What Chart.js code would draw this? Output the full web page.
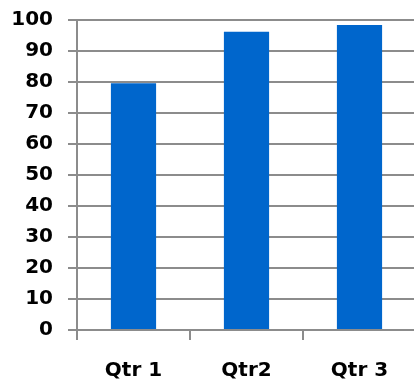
<!DOCTYPE html>
<html><head><meta charset="utf-8">
<script src="https://cdn.jsdelivr.net/npm/chart.js@4/dist/chart.umd.min.js"></script>
<style>html,body{margin:0;padding:0;overflow:hidden;background:#fff}#wrap{width:418px;height:383px;position:relative}</style>
</head><body><div id="wrap"><canvas id="c"></canvas></div>
<script>
const categories = ["Qtr 1", "Qtr2", "Qtr 3"];
const values = [79.6, 96.2, 98.4];
const yTicks = [0, 10, 20, 30, 40, 50, 60, 70, 80, 90, 100];

new Chart(document.getElementById('c'), {
  type: 'bar',
  data: { labels: categories, datasets: [{ data: values, backgroundColor: '#0066cc', borderWidth: 0, categoryPercentage: 1, barPercentage: 0.4 }] },
  options: {
    responsive: true, maintainAspectRatio: false, animation: false,
    layout: { padding: { top: 0, right: 2, left: 0, bottom: 0 } },
    plugins: { legend: { display: false }, tooltip: { enabled: false } },
    scales: {
      y: {
        min: 0, max: 100,
        afterBuildTicks: s => { s.ticks = yTicks.map(v => ({ value: v })); },
        afterFit: s => { s.width = 77; s.paddingTop = 20; s.paddingBottom = 0; },
        border: { display: true, color: '#8c8c8c', width: 2 },
        grid: { color: '#8c8c8c', lineWidth: 2, tickLength: 9, drawTicks: true },
        ticks: { color: '#000', padding: 15, font: { family: 'DejaVu Sans', weight: 'bold', size: 20 } }
      },
      x: {
        afterFit: s => { s.height = 53; },
        border: { display: true, color: '#8c8c8c', width: 2 },
        grid: { display: true, drawOnChartArea: false, color: '#8c8c8c', lineWidth: 2, tickLength: 10, offset: true },
        ticks: { color: '#000', padding: 19, font: { family: 'DejaVu Sans', weight: 'bold', size: 20 } }
      }
    }
  }
});
</script></body></html>
